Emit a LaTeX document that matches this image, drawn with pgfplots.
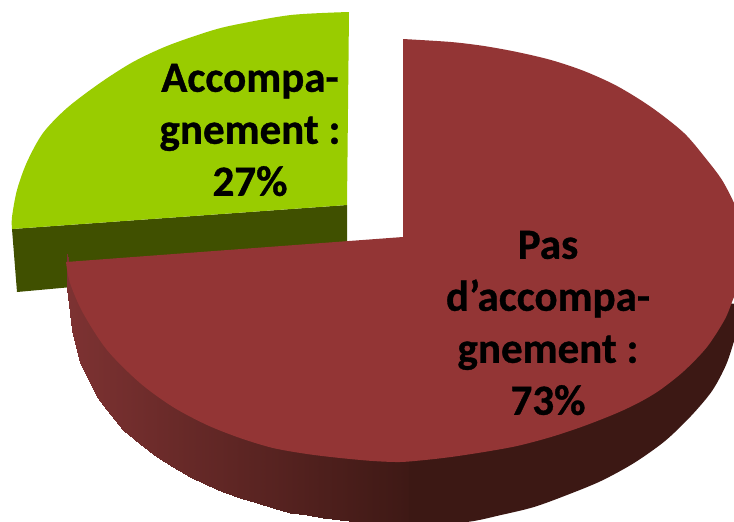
\documentclass[border=0pt]{standalone}
\usepackage{fontspec}
\setmainfont{Carlito}[BoldFeatures={FakeBold=0.8}]
\usepackage{pgfplots}
\pgfplotsset{compat=1.18}
\definecolor{redtop}{RGB}{147,53,53}
\definecolor{greentop}{RGB}{153,204,0}
\definecolor{greenside}{RGB}{64,80,0}
\definecolor{walldark}{RGB}{60,24,20}
\begin{document}
\begin{tikzpicture}
\begin{axis}[
  at={(0,0)}, anchor=south west, scale only axis,
  width=734pt, height=522pt,
  xmin=0, xmax=734, ymin=0, ymax=522, y dir=reverse,
  axis lines=none, clip=true,
  colormap={wall}{rgb255(0)=(60,24,20); rgb255(1)=(125,50,50)},
  point meta min=0, point meta max=1,
]
\path[draw=none] (axis cs:0,0) rectangle (axis cs:734,522);
\addplot[draw=none, fill=greenside] coordinates {(12,229)(17,292)(347,262)(347,205)} --cycle;
\addplot[draw=none, fill=greentop, smooth] coordinates {(349,12)(291,15)(234,25)(207,32)(167,46)(133,62)(100,83)(67,108)(43,133)(27,162)(17,190)(12,217)(12,229)} -- (axis cs:347,205) -- cycle;
\addplot[surf, shader=interp, mesh/cols=2, point meta=explicit, draw=none] table[meta=c] {
x y c
67 254 1
67 288 1
72 280 0.99
72 330 0.99
80 297 0.97
80 363 0.97
97 326 0.92
97 397 0.92
107 340 0.89
107 410 0.89
123 357 0.85
123 430 0.85
140 373 0.80
140 444 0.80
157 386 0.75
157 457 0.75
173 397 0.70
173 467 0.70
190 406 0.65
190 477 0.65
207 415 0.60
207 485 0.60
223 422 0.56
223 492 0.56
240 428 0.51
240 498 0.51
257 433 0.46
257 503 0.46
273 438 0.42
273 508 0.42
290 441 0.37
290 513 0.37
307 444 0.32
307 515 0.32
323 446 0.27
323 518 0.27
340 448 0.23
340 520 0.23
357 450 0.18
357 522 0.18
373 451 0.13
373 523 0.13
390 452 0.09
390 524 0.09
410 452 0.03
410 524 0.03
};
\addplot[draw=none, fill=walldark, smooth] coordinates {(409,526)(467,522)(501,515)(534,507)(567,495)(601,481)(634,463)(665,441)(691,416)(712,391)(726,365)(735,338)(745,305)} -- (axis cs:700,300) -- (axis cs:409,440) -- cycle;
\addplot[draw=none, fill=redtop, smooth] coordinates {(403,39)(451,42)(484,46)(517,52)(551,60)(584,71)(617,86)(651,107)(684,133)(707,160)(722,180)(734,203)(742,225)(747,252)(743,280)(734,297)(725,319)(707,347)(684,371)(660,390)(640,402)(617,413)(584,426)(551,437)(517,446)(484,452)(451,457)(425,460)(400,462)(373,461)(340,458)(307,454)(273,448)(240,438)(207,425)(173,407)(140,383)(107,350)(83,313)(70,283)(66,262)} -- (axis cs:403,237) -- cycle;
\node[font=\bfseries\fontsize{43}{52}\selectfont, align=center, text=black] at (axis cs:250,130) {Accompa-\\gnement :\\27\%};
\node[font=\bfseries\fontsize{43}{52}\selectfont, align=center, text=black] at (axis cs:548,323) {Pas\\d’accompa-\\gnement :\\73\%};
\end{axis}
\end{tikzpicture}
\end{document}
